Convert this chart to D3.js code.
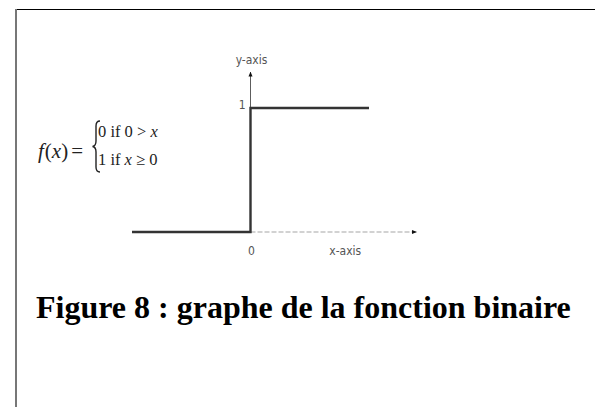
<!DOCTYPE html>
<html>
<head>
<meta charset="utf-8">
<script src="https://cdn.jsdelivr.net/npm/d3@7"></script>
<style>
  html, body { margin: 0; padding: 0; background: #fff; }
  svg { display: block; }
</style>
</head>
<body>
<svg id="chart" width="595" height="407"></svg>
<script>
// Step (Heaviside) function: f(x) = 0 for x < 0, 1 for x >= 0
const stepX = [-1.5, 0, 0, 1.5];
const stepY = [0, 0, 1, 1];
const xTicks = [0];
const xTickLabels = ["0"];
const yTicks = [1];
const yTickLabels = ["1"];
const xAxisTitle = "x-axis";
const yAxisTitle = "y-axis";
const caption = "Figure 8 : graphe de la fonction binaire";

const svg = d3.select("#chart");

// Frame
svg.append("line").attr("x1", 16).attr("y1", 9.5).attr("x2", 595).attr("y2", 9.5)
  .attr("stroke", "#000").attr("stroke-width", 1.2);
svg.append("line").attr("x1", 16).attr("y1", 9).attr("x2", 16).attr("y2", 407)
  .attr("stroke", "#777").attr("stroke-width", 2);

const x = d3.scaleLinear().domain([-1.5, 1.5]).range([132, 369]);
const y = d3.scaleLinear().domain([0, 1]).range([232, 108]);

const axisColor = "#555";
const labelFont = "'Liberation Sans Narrow','DejaVu Sans Condensed','Liberation Sans',sans-serif";

// Arrowheads
const defs = svg.append("defs");
defs.append("marker").attr("id", "arrow").attr("viewBox", "0 0 10 10")
  .attr("refX", 9).attr("refY", 5).attr("markerWidth", 5).attr("markerHeight", 5)
  .attr("markerUnits", "userSpaceOnUse").attr("orient", "auto")
  .append("path").attr("d", "M0,1 L10,5 L0,9 Z").attr("fill", "#111");

// x axis: dashed grey continuation to the right of the origin
svg.append("line")
  .attr("x1", x(0)).attr("y1", y(0)).attr("x2", x(2.1)).attr("y2", y(0))
  .attr("stroke", "#c4c4c4").attr("stroke-width", 1.6).attr("stroke-dasharray", "5,2")
  .attr("marker-end", "url(#arrow)");

// y axis: thin line above the step up to the arrow
svg.append("line")
  .attr("x1", x(0)).attr("y1", y(1)).attr("x2", x(0)).attr("y2", y(1.29))
  .attr("stroke", "#333").attr("stroke-width", 0.8)
  .attr("marker-end", "url(#arrow)");

// The step function itself
const line = d3.line().x((d, i) => x(stepX[i])).y((d, i) => y(stepY[i]));
svg.append("path")
  .datum(stepX)
  .attr("d", line)
  .attr("fill", "none").attr("stroke", "#333").attr("stroke-width", 2.4);

// Tick labels
svg.selectAll(".xtick").data(xTicks).enter().append("text")
  .attr("x", d => x(d) + 1).attr("y", 255)
  .attr("text-anchor", "middle").attr("font-family", labelFont)
  .attr("font-size", 12).attr("fill", axisColor)
  .text((d, i) => xTickLabels[i]);
svg.selectAll(".ytick").data(yTicks).enter().append("text")
  .attr("x", x(0) - 5).attr("y", d => y(d) + 1)
  .attr("text-anchor", "end").attr("font-family", labelFont)
  .attr("font-size", 12).attr("fill", axisColor)
  .text((d, i) => yTickLabels[i]);

// Axis titles
svg.append("text").attr("x", x(1.2)).attr("y", 255)
  .attr("text-anchor", "middle").attr("font-family", labelFont)
  .attr("font-size", 12).attr("fill", axisColor).text(xAxisTitle);
svg.append("text").attr("x", x(0) + 1).attr("y", 64)
  .attr("text-anchor", "middle").attr("font-family", labelFont)
  .attr("font-size", 12).attr("fill", axisColor).text(yAxisTitle);

// Piecewise definition
const serif = "'Liberation Serif','Times New Roman',serif";
const f = svg.append("text").attr("x", 38).attr("y", 158)
  .attr("font-family", serif).attr("font-size", 21).attr("fill", "#222");
f.append("tspan").attr("font-style", "italic").text("f");
f.append("tspan").attr("dx", 1).text("(");
f.append("tspan").attr("font-style", "italic").text("x");
f.append("tspan").text(")");
f.append("tspan").attr("dx", 3).text("=");

// Opening brace drawn as a path
svg.append("path")
  .attr("d", "M100,121 Q96,121 96,126 L96,141 Q96,146 92.5,146.5 Q96,147 96,152 L96,167 Q96,172 100,172")
  .attr("fill", "none").attr("stroke", "#222").attr("stroke-width", 1.4);

const r1 = svg.append("text").attr("x", 98).attr("y", 137)
  .attr("font-family", serif).attr("font-size", 16.5).attr("fill", "#222");
r1.append("tspan").text("0 if 0 > ");
r1.append("tspan").attr("font-style", "italic").text("x");
const r2 = svg.append("text").attr("x", 98).attr("y", 165)
  .attr("font-family", serif).attr("font-size", 16.5).attr("fill", "#222");
r2.append("tspan").text("1 if ");
r2.append("tspan").attr("font-style", "italic").text("x");
r2.append("tspan").text(" ≥ 0");

// Caption
svg.append("text").attr("x", 36).attr("y", 318)
  .attr("font-family", serif).attr("font-weight", "bold").attr("font-size", 32)
  .attr("fill", "#000").text(caption);
</script>
</body>
</html>
